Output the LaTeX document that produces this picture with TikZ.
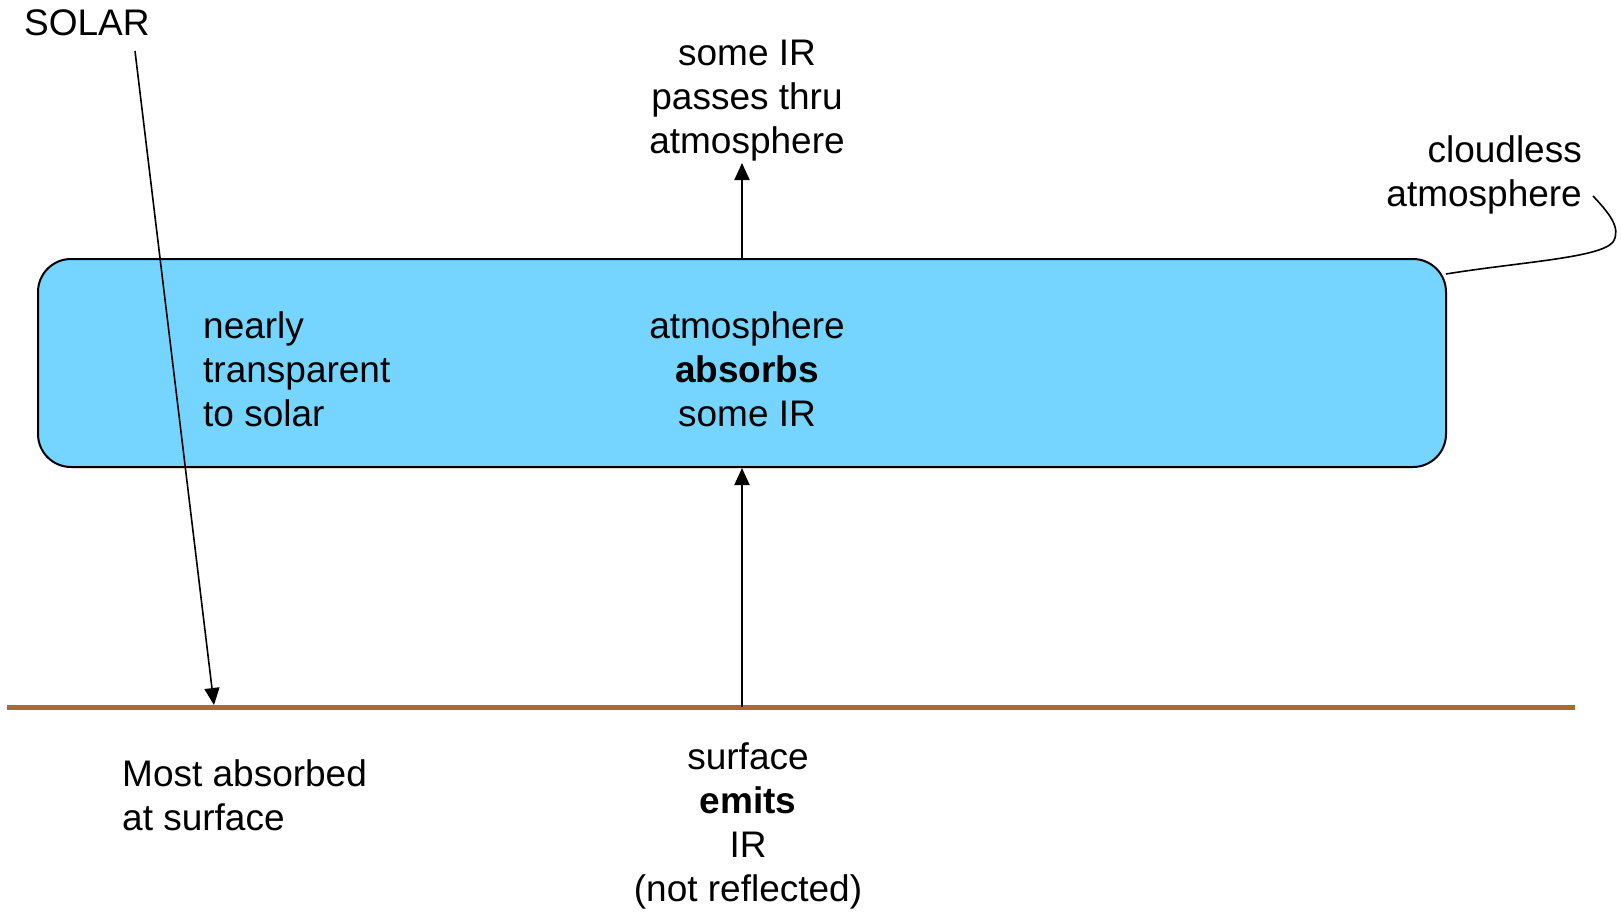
\documentclass[tikz,border=0pt]{standalone}
\usepackage{fontspec}
\setmainfont{Liberation Sans}
\usetikzlibrary{arrows.meta}
\definecolor{atmo}{RGB}{117,213,255}
\definecolor{ground}{RGB}{178,102,48}
\tikzset{
  lbl/.style={font=\fontsize{37}{44}\selectfont, inner sep=0pt, text=black},
  arr/.style={line width=2pt, -{Triangle[length=17pt,width=15pt]}},
  atmobox/.style={draw=black, line width=2pt, fill=atmo, rounded corners=33pt,
     minimum width=1408pt, minimum height=208pt, inner sep=0pt},
}
\begin{document}
\begin{tikzpicture}[x=1pt,y=-1pt]
\useasboundingbox (0,0) rectangle (1621,913);
\node[atmobox] (box) at (742,363) {};
\coordinate (gL) at (7,707);
\coordinate (gR) at (1575,707);
\draw[ground, line width=5pt] (gL) -- (gR);
\coordinate (gC) at (742,707);
\coordinate (topTip) at (742,163);
\coordinate (solS) at (135,51);
\coordinate (solE) at (214,705);
\coordinate (callS) at (1593,196);
\coordinate (callE) at (1446,274);

\node[lbl, anchor=west] (solar) at (24,23) {SOLAR};
\node[lbl, align=center] (passes) at (747,101) {some IR\\passes thru\\atmosphere};
\node[lbl, align=right, anchor=east] (cloud) at (1582,175) {cloudless\\atmosphere};
\node[lbl, align=left, anchor=west] (transp) at (203,369) {nearly\\transparent\\to solar};
\node[lbl, align=center] (absorbs) at (747,369) {atmosphere\\\textbf{absorbs}\\some IR};
\node[lbl, align=left, anchor=west] (most) at (122,795) {Most absorbed\\at surface};
\node[lbl, align=center] (emits) at (748,826) {surface\\\textbf{emits}\\IR\\(not reflected)};

\draw[arr] (box.north) -- (topTip);
\draw[arr] (gC) -- (box.south);
\draw[arr, line width=1.6pt] (solS) -- (solE);
\draw[line width=1.6pt] (callS) .. controls (1608,212) and (1622,228) .. (1613,242)
   .. controls (1600,258) and (1520,262) .. (callE);
\end{tikzpicture}
\end{document}
